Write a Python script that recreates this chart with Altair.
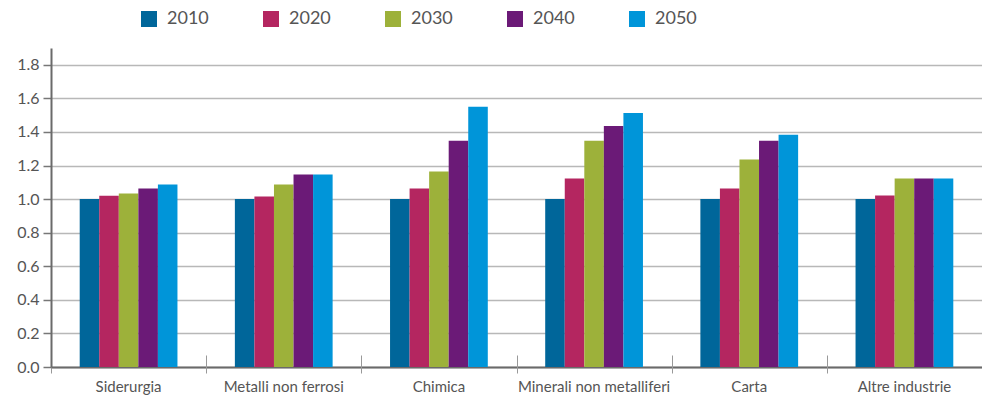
import altair as alt
import pandas as pd

categories = ["Siderurgia", "Metalli non ferrosi", "Chimica",
              "Minerali non metalliferi", "Carta", "Altre industrie"]
years = ["2010", "2020", "2030", "2040", "2050"]
colors = ["#00669a", "#b42660", "#9db13a", "#6b1a77", "#0095d9"]
ytick_values = [0, 0.2, 0.4, 0.6, 0.8, 1.0, 1.2, 1.4, 1.6, 1.8]

v2010 = [1.00, 1.00, 1.00, 1.00, 1.00, 1.00]
v2020 = [1.02, 1.016, 1.063, 1.122, 1.063, 1.022]
v2030 = [1.034, 1.087, 1.164, 1.348, 1.236, 1.122]
v2040 = [1.063, 1.146, 1.348, 1.436, 1.348, 1.122]
v2050 = [1.087, 1.146, 1.550, 1.513, 1.384, 1.122]

series = [v2010, v2020, v2030, v2040, v2050]
rows = []
for y, vals in zip(years, series):
    for c, v in zip(categories, vals):
        rows.append({"Settore": c, "Anno": y, "Valore": v})
df = pd.DataFrame(rows)

FONT = "Lato"
yscale = alt.Scale(domain=[0, 1.9], nice=False)


def yaxis():
    return alt.Axis(title=None, values=ytick_values,
                    format=".1f", labelFontSize=16, labelColor="#555",
                    labelFont=FONT, labelPadding=4, tickSize=8,
                    tickColor="#777", tickWidth=1.5, labelOverlap=False,
                    domainColor="#6a6a6a", domainWidth=2,
                    gridColor="#b8b8b8", gridWidth=1.5)


base = alt.Chart(df)

bars = base.mark_bar().encode(
    x=alt.X("Settore:N", sort=categories,
            scale=alt.Scale(paddingInner=0.37, paddingOuter=0.185),
            axis=alt.Axis(title=None, labelAngle=0, orient="bottom",
                          labelFontSize=15, labelColor="#555", labelFont=FONT,
                          labelPadding=12, ticks=False,
                          domainColor="#6a6a6a", domainWidth=2, grid=False)),
    xOffset=alt.XOffset("Anno:N", sort=years,
                        scale=alt.Scale(paddingInner=0, paddingOuter=0)),
    y=alt.Y("Valore:Q", scale=yscale, axis=yaxis()),
    color=alt.Color("Anno:N", sort=years,
                    scale=alt.Scale(domain=years, range=colors),
                    legend=alt.Legend(title=None, orient="none", direction="horizontal",
                                      columns=5, legendX=89, legendY=-38,
                                      symbolType="square", symbolSize=256,
                                      symbolStrokeWidth=0, labelFontSize=18,
                                      labelColor="#555", labelFont=FONT,
                                      labelOffset=9, columnPadding=53)),
)

separators = base.mark_bar(opacity=0).encode(
    x=alt.X("Settore:N", sort=categories,
            scale=alt.Scale(paddingInner=0, paddingOuter=0),
            axis=alt.Axis(title=None, orient="bottom", labels=False, domain=False,
                          tickBand="extent", tickSize=18, tickColor="#999",
                          tickWidth=1, offset=-12, grid=False)),
    y=alt.Y("Valore:Q", scale=yscale, axis=yaxis()),
)

chart = alt.layer(bars, separators).resolve_scale(x="independent").resolve_axis(
    x="independent").properties(
    width=931, height=319,
    autosize=alt.AutoSizeParams(type="none"),
    padding={"left": 51, "top": 48, "right": 0, "bottom": 31},
).configure_view(stroke=None)

chart.save("out.html", embed_options={"renderer": "svg", "actions": False})
